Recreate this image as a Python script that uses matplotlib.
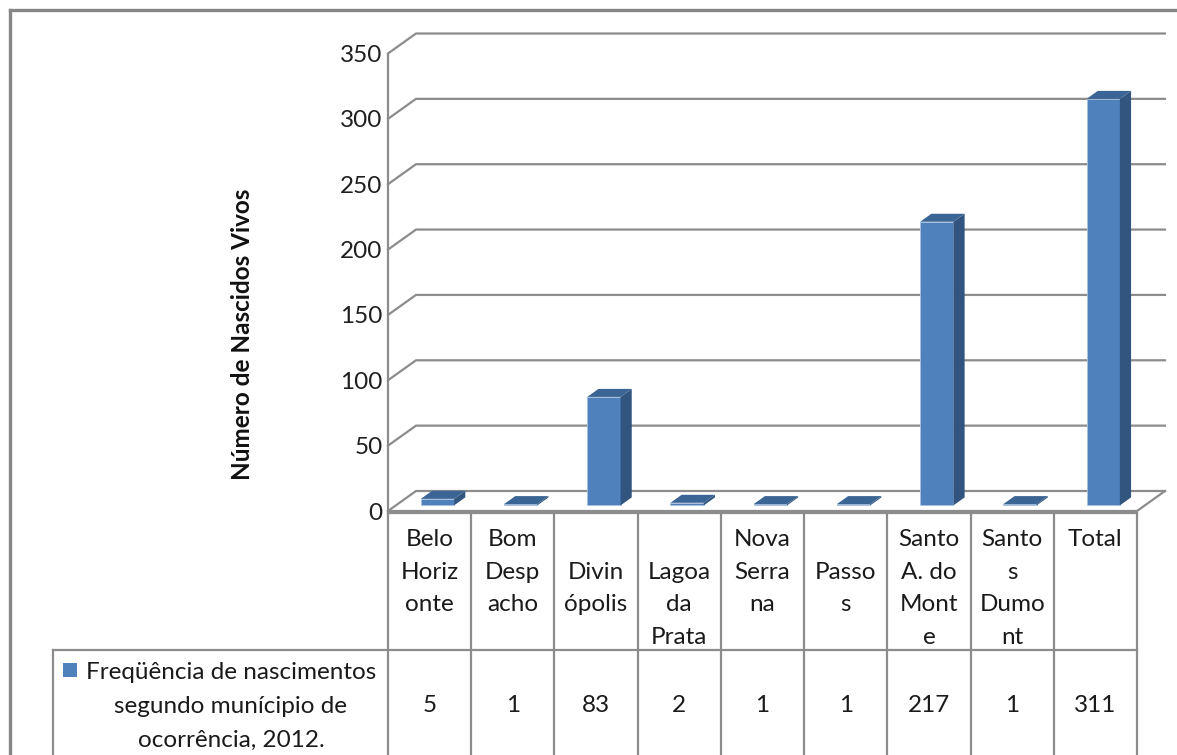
import numpy as np
import matplotlib.pyplot as plt
from matplotlib.patches import Polygon, Rectangle

plt.rcParams['font.family'] = ['Lato', 'DejaVu Sans']

# dados da tabela
municipios = ["Belo\nHoriz\nonte", "Bom\nDesp\nacho", "\nDivin\nópolis", "\nLagoa\nda\nPrata",
              "Nova\nSerra\nna", "\nPasso\ns", "Santo\nA. do\nMont\ne", "Santo\ns\nDumo\nnt", "Total"]
nascidos = [5, 1, 83, 2, 1, 1, 217, 1, 311]
serie = "Freqüência de nascimentos\nsegundo munícipio de\nocorrência, 2012."
yticks = [0, 50, 100, 150, 200, 250, 300, 350]
ylabel = "Número de Nascidos Vivos"

W, H = 1177, 755
fig = plt.figure(figsize=(W / 100, H / 100), dpi=100)

# plano frontal do grafico (em pixels: x 388..1137, y 511..53)
x_left, x_right, y_zero, y_top = 388, 1137, 511, 53.5
ax = fig.add_axes([x_left / W, (H - y_zero) / H, (x_right - x_left) / W, (y_zero - y_top) / H])
n = len(nascidos)
ax.set_xlim(0, n)
ax.set_ylim(0, 350)
for s in ax.spines.values():
    s.set_visible(False)
ax.set_xticks([])
ax.set_yticks(yticks)
ax.tick_params(axis='y', length=0, pad=4, labelsize=17.5, labelcolor='#1f1f1f')
ax.patch.set_visible(False)

# profundidade 3D em unidades de dados
px_x = (x_right - x_left) / n
px_y = (y_zero - y_top) / 350
DX, DY = 28 / px_x, 20 / px_y

grid = '#8c8c8c'
for v in yticks:
    ax.plot([0, DX, n + DX], [v, v + DY, v + DY], color=grid, lw=1.6, clip_on=False, zorder=1)
ax.plot([0, 0], [0, 350], color=grid, lw=1.6, clip_on=False, zorder=1)
ax.plot([0, n, n + DX], [0, 0, DY], color=grid, lw=1.6, clip_on=False, zorder=1)

# colunas 3D
w, f, d = 0.4, 0.28, 0.4
front, side, top = '#4f81bd', '#32557f', '#3b6594'
x0 = np.arange(n) + 0.5 - w / 2 + f * DX
y0 = f * DY
ax.bar(x0, nascidos, width=w, bottom=y0, align='edge', color=front,
       edgecolor='#a9c0de', linewidth=0.6, clip_on=False, zorder=3)
for xi, v in zip(x0, nascidos):
    ax.add_patch(Polygon([(xi + w, y0), (xi + w + d * DX, y0 + d * DY),
                          (xi + w + d * DX, y0 + v + d * DY), (xi + w, y0 + v)],
                         closed=True, facecolor=side, edgecolor='none', clip_on=False, zorder=3))
    ax.add_patch(Polygon([(xi, y0 + v), (xi + d * DX, y0 + v + d * DY),
                          (xi + w + d * DX, y0 + v + d * DY), (xi + w, y0 + v)],
                         closed=True, facecolor=top, edgecolor='none', clip_on=False, zorder=3))

# tabela de dados e moldura
ov = fig.add_axes([0, 0, 1, 1])
ov.set_xlim(0, W)
ov.set_ylim(H, 0)
ov.axis('off')
ov.patch.set_visible(False)

line = '#8c8c8c'
txt = '#1a1a1a'
col_x = np.linspace(x_left, x_right, n + 1)
row_top, row_mid = 512.5, 650
ov.plot([x_left, x_right], [row_top, row_top], color=line, lw=1.6)
ov.plot([53, x_right], [row_mid, row_mid], color=line, lw=1.6)
for cx in col_x:
    ov.plot([cx, cx], [row_top, H], color=line, lw=1.6)
ov.plot([53, 53], [row_mid, H], color=line, lw=1.6)

fs = 17.5
for i, lab in enumerate(municipios):
    cx = (col_x[i] + col_x[i + 1]) / 2
    for j, part in enumerate(lab.split('\n')):
        ov.text(cx, 546 + 32.7 * j, part, ha='center', va='baseline', fontsize=fs, color=txt)
    ov.text(cx, 712, str(nascidos[i]), ha='center', va='baseline', fontsize=fs, color=txt)

ov.add_patch(Rectangle((63, 663), 14, 14, facecolor=front, edgecolor='none'))
for j, part in enumerate(serie.split('\n')):
    ov.text(231, 679 + 34 * j, part, ha='center', va='baseline', fontsize=fs, color=txt)

ov.text(243, 334, ylabel, rotation=90, ha='center', va='center',
        fontsize=17.5, fontweight='bold', color='#111111')

ov.plot([9.5, 9.5], [H, 9.5], color='#868686', lw=2.4, solid_capstyle='projecting')
ov.plot([9.5, W], [9.5, 9.5], color='#868686', lw=2.4, solid_capstyle='projecting')

fig.savefig('out.png', dpi=100)
